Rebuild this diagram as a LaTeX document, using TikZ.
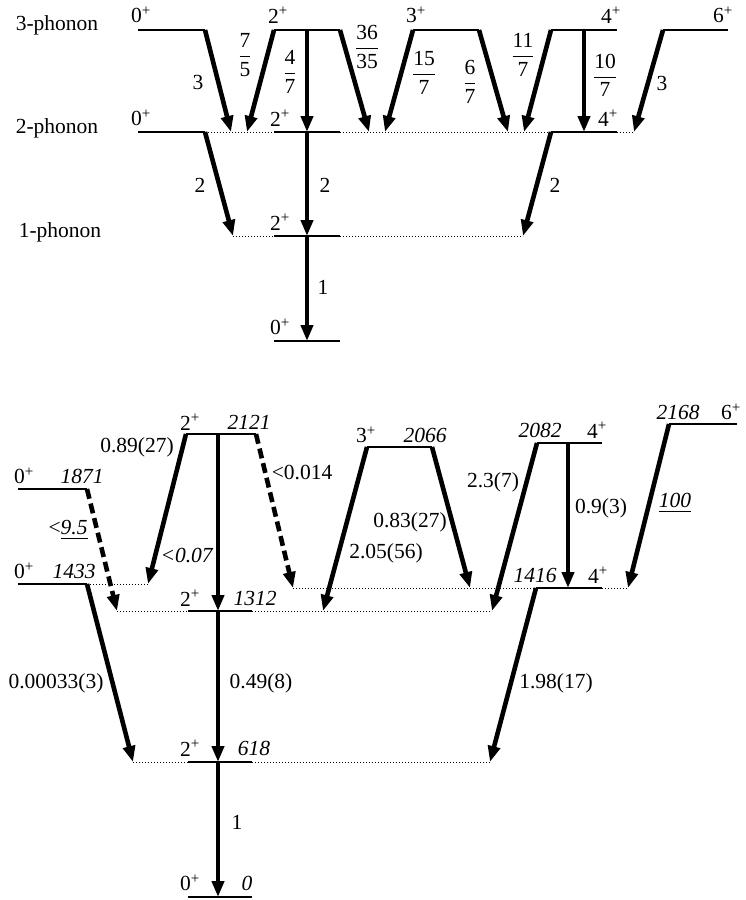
\documentclass[tikz,border=0pt]{standalone}
\usepackage{amsmath}
\usepackage{fontspec}
\setmainfont{Liberation Serif}
\usetikzlibrary{arrows.meta}
\newcommand{\fr}[2]{$\genfrac{}{}{0.7pt}{0}{\mbox{#1}}{\mbox{#2}}$}
\newcommand{\jp}[1]{#1\textsuperscript{+}}
\begin{document}
\begin{tikzpicture}[x=1pt, y=-1pt,
    lvl/.style={line width=1.6pt},
    ext/.style={line width=0.8pt, dash pattern=on 1pt off 2pt},
    tr/.style={line width=4.6pt, -{Triangle[length=16pt,width=12pt]}},
    trd/.style={tr, dash pattern=on 10pt off 5pt},
    lab/.style={font=\fontsize{21.5}{25}\selectfont, inner sep=0pt}]
    \useasboundingbox (0,0) rectangle (745,900);

    % ---------------- upper part: phonon multiplets ----------------
    \node[lab] (ph3) at (57,25) {3-phonon};
    \node[lab] (ph2) at (57,128) {2-phonon};
    \node[lab] (ph1) at (60,232) {1-phonon};

    % 3-phonon states
    \coordinate (A0l) at (138,30); \coordinate (A0r) at (205,30);
    \coordinate (A2l) at (274,30); \coordinate (A2m) at (307,30); \coordinate (A2r) at (340,30);
    \coordinate (A3l) at (413,30); \coordinate (A3r) at (479,30);
    \coordinate (A4l) at (551,30); \coordinate (A4m) at (584,30); \coordinate (A4r) at (617,30);
    \coordinate (A6l) at (663,30); \coordinate (A6r) at (728,30);
    % 2-phonon states
    \coordinate (B0l) at (138,132); \coordinate (B0r) at (205,132);
    \coordinate (B2l) at (274,132); \coordinate (B2m) at (307,132); \coordinate (B2r) at (340,132);
    \coordinate (B4l) at (551,132); \coordinate (B4m) at (584,132); \coordinate (B4r) at (617,132);
    \coordinate (b1) at (231,132); \coordinate (b2) at (247,132); \coordinate (b3) at (369,132);
    \coordinate (b4) at (385,132); \coordinate (b5) at (508,132); \coordinate (b6) at (524,132);
    \coordinate (b7) at (634,132);
    % 1-phonon and ground state
    \coordinate (C1) at (233,236); \coordinate (C2l) at (274,236); \coordinate (C2m) at (307,236);
    \coordinate (C2r) at (340,236); \coordinate (C9) at (523,236);
    \coordinate (D0l) at (274,341); \coordinate (D0m) at (307,341); \coordinate (D0r) at (340,341);

    \draw[lvl] (A0l) -- (A0r) (A2l) -- (A2r) (A3l) -- (A3r) (A4l) -- (A4r) (A6l) -- (A6r);
    \draw[lvl] (B0l) -- (B0r) (B2l) -- (B2r) (B4l) -- (B4r) (C2l) -- (C2r) (D0l) -- (D0r);
    \draw[ext] (B0r) -- (B2l) (B2r) -- (B4l) (B4r) -- (b7);
    \draw[ext] (C1) -- (C2l) (C2r) -- (C9);

    \node[lab] (s1) at (141,15) {\jp{0}};
    \node[lab] (s2) at (278,15) {\jp{2}};
    \node[lab] (s3) at (416,15) {\jp{3}};
    \node[lab] (s4) at (611,15) {\jp{4}};
    \node[lab] (s5) at (723,15) {\jp{6}};
    \node[lab] (s6) at (141,118) {\jp{0}};
    \node[lab] (s7) at (280,118) {\jp{2}};
    \node[lab] (s8) at (608,118) {\jp{4}};
    \node[lab] (s9) at (280,222) {\jp{2}};
    \node[lab] (s10) at (280,327) {\jp{0}};

    % transitions with relative B(E2) values
    \draw[tr] (A0r) -- (b1);  \node[lab] (r1) at (198,82) {3};
    \draw[tr] (A2l) -- (b2);  \node[lab] (r2) at (245,55) {\fr{7}{5}};
    \draw[tr] (A2m) -- (B2m); \node[lab] (r3) at (290,72) {\fr{4}{7}};
    \draw[tr] (A2r) -- (b3);  \node[lab] (r4) at (367,47) {\fr{36}{35}};
    \draw[tr] (A3l) -- (b4);  \node[lab] (r5) at (424,73) {\fr{15}{7}};
    \draw[tr] (A3r) -- (b5);  \node[lab] (r6) at (470,82) {\fr{6}{7}};
    \draw[tr] (A4l) -- (b6);  \node[lab] (r7) at (523,55) {\fr{11}{7}};
    \draw[tr] (A4m) -- (B4m); \node[lab] (r8) at (605,75) {\fr{10}{7}};
    \draw[tr] (A6l) -- (b7);  \node[lab] (r9) at (662,83) {3};
    \draw[tr] (B0r) -- (C1);  \node[lab] (r10) at (200,185) {2};
    \draw[tr] (B2m) -- (C2m); \node[lab] (r11) at (325,185) {2};
    \draw[tr] (B4l) -- (C9);  \node[lab] (r12) at (555,185) {2};
    \draw[tr] (C2m) -- (D0m); \node[lab] (r13) at (323,287) {1};

    % ---------------- lower part: measured levels ----------------
    \coordinate (E2l) at (186,434); \coordinate (E2m) at (218,434); \coordinate (E2r) at (256,434);
    \coordinate (F0l) at (18,489);  \coordinate (F0r) at (87,489);
    \coordinate (G0l) at (18,584);  \coordinate (G0r) at (87,584);  \coordinate (g1) at (148,584);
    \coordinate (h1) at (293,588);  \coordinate (h2) at (470,588);
    \coordinate (H4l) at (536,588); \coordinate (H4m) at (568,588); \coordinate (H4r) at (602,588);
    \coordinate (h3) at (628,588);
    \coordinate (i1) at (117,611);  \coordinate (I2l) at (188,611); \coordinate (I2m) at (218,611);
    \coordinate (I2r) at (252,611); \coordinate (i2) at (323,611);  \coordinate (i3) at (492,611);
    \coordinate (J3l) at (367,447); \coordinate (J3r) at (432,447);
    \coordinate (K4l) at (537,443); \coordinate (K4m) at (568,443); \coordinate (K4r) at (602,443);
    \coordinate (L6l) at (669,424); \coordinate (L6r) at (737,424);
    \coordinate (m1) at (133,762);  \coordinate (M2l) at (188,762); \coordinate (M2m) at (218,762);
    \coordinate (M2r) at (252,762); \coordinate (m2) at (490,762);
    \coordinate (N0l) at (188,897); \coordinate (N0m) at (218,897); \coordinate (N0r) at (252,897);

    \draw[lvl] (E2l) -- (E2r) (F0l) -- (F0r) (G0l) -- (G0r) (H4l) -- (H4r) (I2l) -- (I2r);
    \draw[lvl] (J3l) -- (J3r) (K4l) -- (K4r) (L6l) -- (L6r) (M2l) -- (M2r) (N0l) -- (N0r);
    \draw[ext] (G0r) -- (g1) (h1) -- (H4l) (H4r) -- (h3);
    \draw[ext] (i1) -- (I2l) (I2r) -- (i3) (m1) -- (M2l) (M2r) -- (m2);

    \node[lab] (e1) at (190,422) {\jp{2}};  \node[lab] (e2) at (249,422) {\textit{2121}};
    \node[lab] (f1) at (24,476) {\jp{0}};   \node[lab] (f2) at (82,476) {\textit{1871}};
    \node[lab] (g2) at (24,571) {\jp{0}};   \node[lab] (g3) at (74,571) {\textit{1433}};
    \node[lab] (h4) at (535,575) {\textit{1416}}; \node[lab] (h5) at (598,575) {\jp{4}};
    \node[lab] (i4) at (190,598) {\jp{2}};  \node[lab] (i5) at (255,598) {\textit{1312}};
    \node[lab] (j1) at (366,435) {\jp{3}};  \node[lab] (j2) at (425,435) {\textit{2066}};
    \node[lab] (k1) at (540,430) {\textit{2082}}; \node[lab] (k2) at (597,430) {\jp{4}};
    \node[lab] (l1) at (678,412) {\textit{2168}}; \node[lab] (l2) at (731,412) {\jp{6}};
    \node[lab] (m3) at (190,748) {\jp{2}};  \node[lab] (m4) at (254,748) {\textit{618}};
    \node[lab] (n1) at (190,883) {\jp{0}};  \node[lab] (n2) at (247,883) {\textit{0}};

    % measured transition strengths
    \draw[tr]  (E2l) -- (g1);  \node[lab] (t1) at (137,447) {0.89(27)};
    \node[lab] (t2) at (187,555) {\textit{<0.07}};
    \draw[tr]  (E2m) -- (I2m);
    \draw[trd] (E2r) -- (h1);  \node[lab] (t3) at (302,472) {<0.014};
    \draw[trd] (F0r) -- (i1);  \node[lab] (t4) at (68,530) {<\underline{\textit{9.5}}};
    \draw[tr]  (G0r) -- (m1);  \node[lab] (t5) at (56,683) {0.00033(3)};
    \draw[tr]  (J3l) -- (i2);  \node[lab] (t6) at (386,553) {2.05(56)};
    \draw[tr]  (J3r) -- (h2);  \node[lab] (t7) at (410,522) {0.83(27)};
    \draw[tr]  (K4l) -- (i3);  \node[lab] (t8) at (493,482) {2.3(7)};
    \draw[tr]  (K4m) -- (H4m); \node[lab] (t9) at (601,508) {0.9(3)};
    \draw[tr]  (L6l) -- (h3);  \node[lab] (t10) at (675,503) {\underline{\textit{100}}};
    \draw[tr]  (H4l) -- (m2);  \node[lab] (t11) at (556,683) {1.98(17)};
    \draw[tr]  (I2m) -- (M2m); \node[lab] (t12) at (261,683) {0.49(8)};
    \draw[tr]  (M2m) -- (N0m); \node[lab] (t13) at (237,822) {1};
\end{tikzpicture}
\end{document}
